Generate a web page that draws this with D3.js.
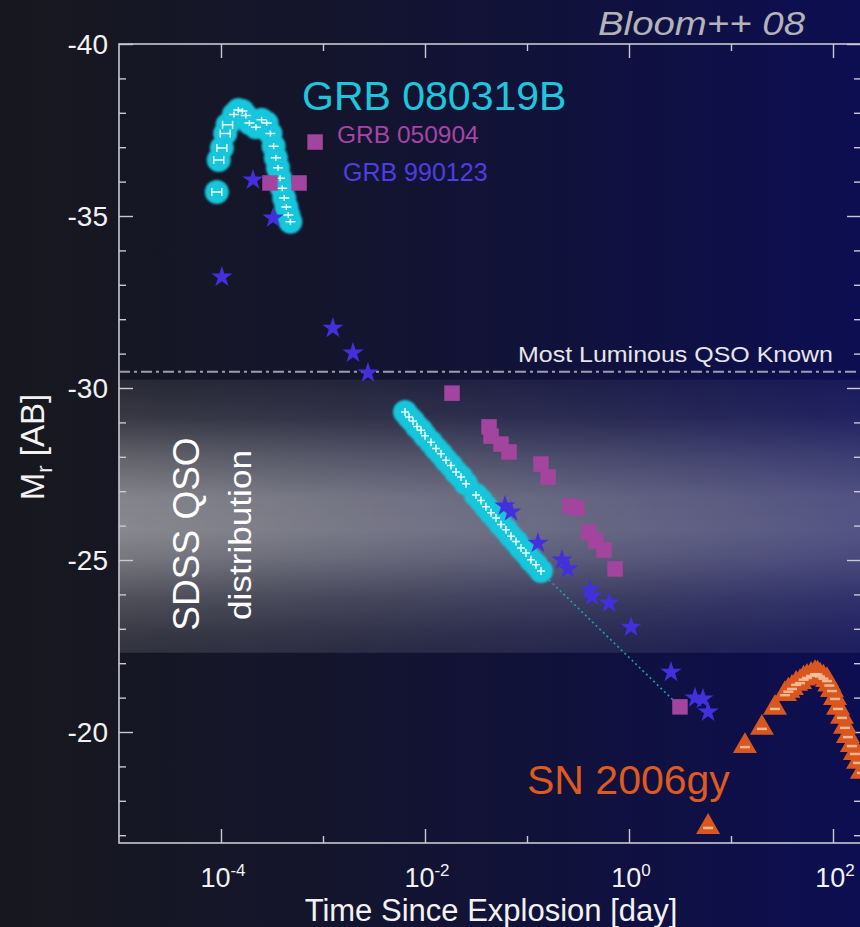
<!DOCTYPE html>
<html>
<head>
<meta charset="utf-8">
<script src="https://cdn.jsdelivr.net/npm/d3@7"></script>
<style>
  html, body { margin: 0; padding: 0; background: #15161e; }
  svg { display: block; }
  text { font-family: "Liberation Sans", Arial, Helvetica, sans-serif; }
</style>
</head>
<body>
<svg id="chart" width="860" height="927"></svg>
<script>
// ---- data: time since explosion [day], absolute r-band magnitude M_r [AB] ----
const grb080319bPrompt = [
  [9.1e-5, -35.70], [9.5e-5, -36.63], [1.02e-4, -36.98], [1.10e-4, -37.40],
  [1.16e-4, -37.65], [1.34e-4, -37.95], [1.48e-4, -38.08], [1.62e-4, -38.05],
  [1.75e-4, -37.92], [1.90e-4, -37.70], [2.20e-4, -37.58], [2.50e-4, -37.80],
  [2.80e-4, -37.70], [3.05e-4, -37.40], [3.28e-4, -37.03], [3.45e-4, -36.69],
  [3.62e-4, -36.40], [3.80e-4, -36.10], [3.98e-4, -35.81], [4.17e-4, -35.52],
  [4.37e-4, -35.26], [4.57e-4, -35.03], [4.79e-4, -34.83]
];
const grb080319bAfterglow = [
  [0.00637, -29.30], [0.00697, -29.16], [0.00762, -29.04], [0.00835, -28.88],
  [0.00914, -28.77], [0.0100, -28.61],
  [0.01145, -28.42], [0.01282, -28.24], [0.01436, -28.09], [0.01607, -27.90],
  [0.01799, -27.75], [0.02014, -27.56], [0.02255, -27.41], [0.02524, -27.22],
  [0.0316, -26.89], [0.0354, -26.73], [0.0396, -26.55], [0.0444, -26.37],
  [0.0497, -26.22], [0.0556, -26.03], [0.0622, -25.88], [0.0697, -25.69],
  [0.0780, -25.54], [0.0873, -25.35], [0.0977, -25.20], [0.1094, -25.01],
  [0.1225, -24.86], [0.1371, -24.68]
];
const grb080319bExtrapolation = [[0.14, -24.62], [3.0, -20.80]];
const grb050904 = [
  [8.36e-4, -37.15], [3.02e-4, -35.96], [5.82e-4, -35.96], [0.0184, -29.85],
  [0.0424, -28.87], [0.0444, -28.60], [0.0556, -28.37], [0.0667, -28.14],
  [0.137, -27.79], [0.161, -27.41], [0.264, -26.57], [0.309, -26.51],
  [0.406, -25.81], [0.474, -25.55], [0.569, -25.29], [0.730, -24.74],
  [3.16, -20.73]
];
const grb990123 = [
  [1.02e-4, -33.23], [2.06e-4, -36.05], [3.24e-4, -34.94], [1.25e-3, -31.74],
  [1.97e-3, -31.02], [2.76e-3, -30.44], [0.0608, -26.57], [0.0697, -26.40],
  [0.128, -25.49], [0.220, -25.00], [0.252, -24.74], [0.415, -24.13],
  [0.434, -23.95], [0.637, -23.75], [1.047, -23.05], [2.58, -21.74],
  [4.44, -20.99], [5.31, -20.96], [5.96, -20.58]
];
const sn2006gy = [
  [5.96, -17.24], [13.7, -19.59], [20.1, -20.12], [27.0, -20.70],
  [33.8, -21.10], [36.5, -21.20], [39.6, -21.28], [43.5, -21.40],
  [47.5, -21.45], [51.5, -21.55], [55.6, -21.60], [61.0, -21.66],
  [66.7, -21.71], [70.5, -21.70], [74.6, -21.64], [80.5, -21.58],
  [87.3, -21.51], [92.0, -21.38], [97.7, -21.22], [104.7, -20.99],
  [112, -20.70], [122.5, -20.44], [131, -20.15], [140, -19.88],
  [153, -19.62], [164, -19.39], [176, -19.13], [192, -18.84]
];
const qsoMostLuminous = -30.47;
const sdssBand = [-30.25, -22.3];
const xMajorTicks = [1e-4, 1e-2, 1e0, 1e2];
const xMinorTicks = [1e-3, 1e-1, 1e1];
const xTickExponents = ["-4", "-2", "0", "2"];
const yMajorTicks = [-40, -35, -30, -25, -20];
const yMinorTicks = [-39, -38, -37, -36, -34, -33, -32, -31, -29, -28, -27, -26,
                     -24, -23, -22, -21, -19, -18, -17];

// ---- layout ----
const W = 860, H = 927;
const plot = { left: 119, right: 861, top: 44, bottom: 843 };

const svg = d3.select("#chart");
const defs = svg.append("defs");

// page background: charcoal on the left shading into deep navy on the right
const bgGrad = defs.append("linearGradient").attr("id", "bg")
  .attr("x1", 0).attr("x2", 1).attr("y1", 0).attr("y2", 0);
bgGrad.append("stop").attr("offset", "0%").attr("stop-color", "#17181e");
bgGrad.append("stop").attr("offset", "35%").attr("stop-color", "#14152b");
bgGrad.append("stop").attr("offset", "70%").attr("stop-color", "#10113e");
bgGrad.append("stop").attr("offset", "100%").attr("stop-color", "#0d0e52");
svg.append("rect").attr("width", W).attr("height", H).attr("fill", "url(#bg)");

const x = d3.scaleLog().domain([1e-5, 1e2]).range([plot.left, 833]);
const y = d3.scaleLinear().domain([-40, -20]).range([plot.top, 732]);

// SDSS quasar luminosity band: soft white haze, strongest near M ~ -26.5
const bandGrad = defs.append("linearGradient").attr("id", "band")
  .attr("x1", 0).attr("x2", 0).attr("y1", 0).attr("y2", 1);
[[0, 0.08], [0.14, 0.15], [0.28, 0.32], [0.43, 0.47], [0.55, 0.49],
 [0.65, 0.42], [0.8, 0.25], [0.93, 0.15], [1, 0.12]].forEach(([o, a]) =>
  bandGrad.append("stop").attr("offset", o).attr("stop-color", "#ffffff").attr("stop-opacity", a));
const bandFade = defs.append("linearGradient").attr("id", "bandFade")
  .attr("x1", 0).attr("x2", 1).attr("y1", 0).attr("y2", 0);
bandFade.append("stop").attr("offset", "0%").attr("stop-color", "#ffffff");
bandFade.append("stop").attr("offset", "100%").attr("stop-color", "#9a9a9a");
const mask = defs.append("mask").attr("id", "bandMask");
mask.append("rect").attr("x", plot.left).attr("width", plot.right - plot.left)
  .attr("y", y(sdssBand[0])).attr("height", y(sdssBand[1]) - y(sdssBand[0]))
  .attr("fill", "url(#bandFade)");
svg.append("rect")
  .attr("x", plot.left).attr("width", plot.right - plot.left)
  .attr("y", y(sdssBand[0])).attr("height", y(sdssBand[1]) - y(sdssBand[0]))
  .attr("fill", "url(#band)").attr("mask", "url(#bandMask)");

// blur for the glowing afterglow disks
defs.append("filter").attr("id", "soft").attr("x", "-20%").attr("y", "-20%")
  .attr("width", "140%").attr("height", "140%")
  .append("feGaussianBlur").attr("stdDeviation", 0.9);

// ---- axes ----
const axisColor = "#c9c9cf";
function styleAxis(g) {
  g.select(".domain").remove();
  g.selectAll(".tick line").attr("stroke", axisColor).attr("stroke-width", 1.4);
  g.selectAll(".tick text").remove();
}
svg.append("g").attr("transform", `translate(0,${plot.bottom})`)
  .call(d3.axisBottom(x).tickValues(xMajorTicks).tickSize(-14)).call(styleAxis);
svg.append("g").attr("transform", `translate(0,${plot.bottom})`)
  .call(d3.axisBottom(x).tickValues(xMinorTicks).tickSize(-7)).call(styleAxis);
svg.append("g").attr("transform", `translate(0,${plot.top})`)
  .call(d3.axisTop(x).tickValues(xMajorTicks).tickSize(-14)).call(styleAxis);
svg.append("g").attr("transform", `translate(0,${plot.top})`)
  .call(d3.axisTop(x).tickValues(xMinorTicks).tickSize(-7)).call(styleAxis);
svg.append("g").attr("transform", `translate(${plot.left},0)`)
  .call(d3.axisLeft(y).tickValues(yMajorTicks).tickSize(-14)).call(styleAxis);
svg.append("g").attr("transform", `translate(${plot.left},0)`)
  .call(d3.axisLeft(y).tickValues(yMinorTicks).tickSize(-7)).call(styleAxis);
svg.append("g").attr("transform", `translate(${plot.right},0)`)
  .call(d3.axisRight(y).tickValues(yMajorTicks).tickSize(-14)).call(styleAxis);
svg.append("g").attr("transform", `translate(${plot.right},0)`)
  .call(d3.axisRight(y).tickValues(yMinorTicks).tickSize(-7)).call(styleAxis);

svg.append("rect")
  .attr("x", plot.left).attr("y", plot.top)
  .attr("width", plot.right - plot.left).attr("height", plot.bottom - plot.top)
  .attr("fill", "none").attr("stroke", axisColor).attr("stroke-width", 1.6);

// y tick labels
svg.append("g").selectAll("text").data(yMajorTicks).join("text")
  .attr("x", 108).attr("y", d => y(d)).attr("dy", "0.36em")
  .attr("text-anchor", "end").attr("font-size", 28).attr("fill", "#f2f2f2")
  .text(d => String(d));

// x tick labels: 10 with superscript exponent
const xl = svg.append("g").selectAll("text").data(xMajorTicks).join("text")
  .attr("x", d => x(d) + 2).attr("y", 887)
  .attr("text-anchor", "middle").attr("font-size", 27).attr("fill", "#f2f2f2");
xl.append("tspan").text("10");
xl.append("tspan").attr("dy", -11).attr("font-size", 17)
  .text((d, i) => xTickExponents[i]);

// axis titles
svg.append("text").attr("x", 491).attr("y", 921).attr("text-anchor", "middle")
  .attr("font-size", 31).attr("fill", "#f2f2f2").text("Time Since Explosion [day]");
const yt = svg.append("text").attr("transform", "translate(44,447) rotate(-90)")
  .attr("text-anchor", "middle").attr("font-size", 33).attr("fill", "#f2f2f2");
yt.append("tspan").text("M");
yt.append("tspan").attr("dy", 8).attr("font-size", 22).text("r");
yt.append("tspan").attr("dy", -8).text(" [AB]");

// ---- reference levels ----
svg.append("line")
  .attr("x1", plot.left).attr("x2", plot.right)
  .attr("y1", y(qsoMostLuminous)).attr("y2", y(qsoMostLuminous))
  .attr("stroke", "#9d9dab").attr("stroke-width", 2)
  .attr("stroke-dasharray", "11,4,3,4");
svg.append("text").attr("x", 833).attr("y", y(qsoMostLuminous) - 10)
  .attr("text-anchor", "end").attr("font-size", 22).attr("fill", "#e6e6ea")
  .attr("textLength", 315).attr("lengthAdjust", "spacingAndGlyphs")
  .text("Most Luminous QSO Known");

svg.append("text").attr("transform", "translate(199,534) rotate(-90)")
  .attr("text-anchor", "middle").attr("font-size", 37).attr("fill", "#ffffff")
  .text("SDSS QSO");
svg.append("text").attr("transform", "translate(251,535) rotate(-90)")
  .attr("text-anchor", "middle").attr("font-size", 32).attr("fill", "#ffffff")
  .attr("textLength", 170).attr("lengthAdjust", "spacingAndGlyphs")
  .text("distribution");

// ---- GRB 080319B ----
svg.append("path")
  .attr("d", d3.line().x(d => x(d[0])).y(d => y(d[1]))(grb080319bExtrapolation))
  .attr("fill", "none").attr("stroke", "#1aa0b4").attr("stroke-width", 1.6)
  .attr("stroke-dasharray", "2,3");

const cyan = "#19c6dc";
const allCyan = grb080319bPrompt.concat(grb080319bAfterglow);
svg.append("g").attr("filter", "url(#soft)")
  .selectAll("circle").data(allCyan).join("circle")
  .attr("cx", d => x(d[0])).attr("cy", d => y(d[1])).attr("r", 12)
  .attr("fill", cyan);

// white error-bar markers on top of the disks
const marks = svg.append("g").attr("stroke", "#ffffff").attr("stroke-width", 1.5)
  .attr("opacity", 0.92);
grb080319bPrompt.forEach((d, i) => {
  const cx = x(d[0]), cy = y(d[1]);
  if (i < 5) {
    marks.append("path").attr("d",
      `M${cx - 5},${cy}H${cx + 5}M${cx - 5},${cy - 4}V${cy + 4}M${cx + 5},${cy - 4}V${cy + 4}`);
  } else {
    marks.append("path").attr("d", `M${cx - 5},${cy}H${cx + 5}M${cx},${cy - 3}V${cy + 3}`);
  }
});
grb080319bAfterglow.forEach(d => {
  const cx = x(d[0]), cy = y(d[1]);
  marks.append("path").attr("d", `M${cx - 4},${cy}H${cx + 4}M${cx},${cy - 4}V${cy + 4}`);
});

// ---- GRB 050904 ----
svg.append("g").selectAll("path").data(grb050904).join("path")
  .attr("transform", d => `translate(${x(d[0])},${y(d[1])})`)
  .attr("d", d3.symbol(d3.symbolSquare, 240)())
  .attr("fill", "#a3459f");

// ---- GRB 990123 ----
svg.append("g").selectAll("path").data(grb990123).join("path")
  .attr("transform", d => `translate(${x(d[0])},${y(d[1])})`)
  .attr("d", d3.symbol(d3.symbolStar, 140)())
  .attr("fill", "#4230dc");

// ---- SN 2006gy ----
const sn = svg.append("g");
sn.selectAll("path").data(sn2006gy).join("path")
  .attr("transform", d => `translate(${x(d[0])},${y(d[1])})`)
  .attr("d", d3.symbol(d3.symbolTriangle, 250)())
  .attr("fill", "#d9561e");
sn.selectAll("line").data(sn2006gy).join("line")
  .attr("x1", d => x(d[0]) - 5).attr("x2", d => x(d[0]) + 5)
  .attr("y1", d => y(d[1]) + 1).attr("y2", d => y(d[1]) + 1)
  .attr("stroke", "#f6c6a6").attr("stroke-width", 2.5).attr("opacity", 0.85);

// ---- labels ----
svg.append("text").attr("x", 302).attr("y", 110).attr("font-size", 41)
  .attr("fill", "#1ec6dc").text("GRB 080319B");
svg.append("text").attr("x", 337).attr("y", 143).attr("font-size", 24.5)
  .attr("fill", "#a545a6").text("GRB 050904");
svg.append("text").attr("x", 343).attr("y", 181).attr("font-size", 25)
  .attr("fill", "#4d3ee2").text("GRB 990123");
svg.append("text").attr("x", 527).attr("y", 794).attr("font-size", 41)
  .attr("fill", "#de5a1e").text("SN 2006gy");
svg.append("text").attr("x", 805).attr("y", 35).attr("text-anchor", "end")
  .attr("font-family", "'Open Sans', sans-serif").attr("font-style", "italic")
  .attr("font-size", 33).attr("fill", "#b3b3b8")
  .attr("textLength", 207).attr("lengthAdjust", "spacingAndGlyphs")
  .text("Bloom++ 08");
</script>
</body>
</html>
